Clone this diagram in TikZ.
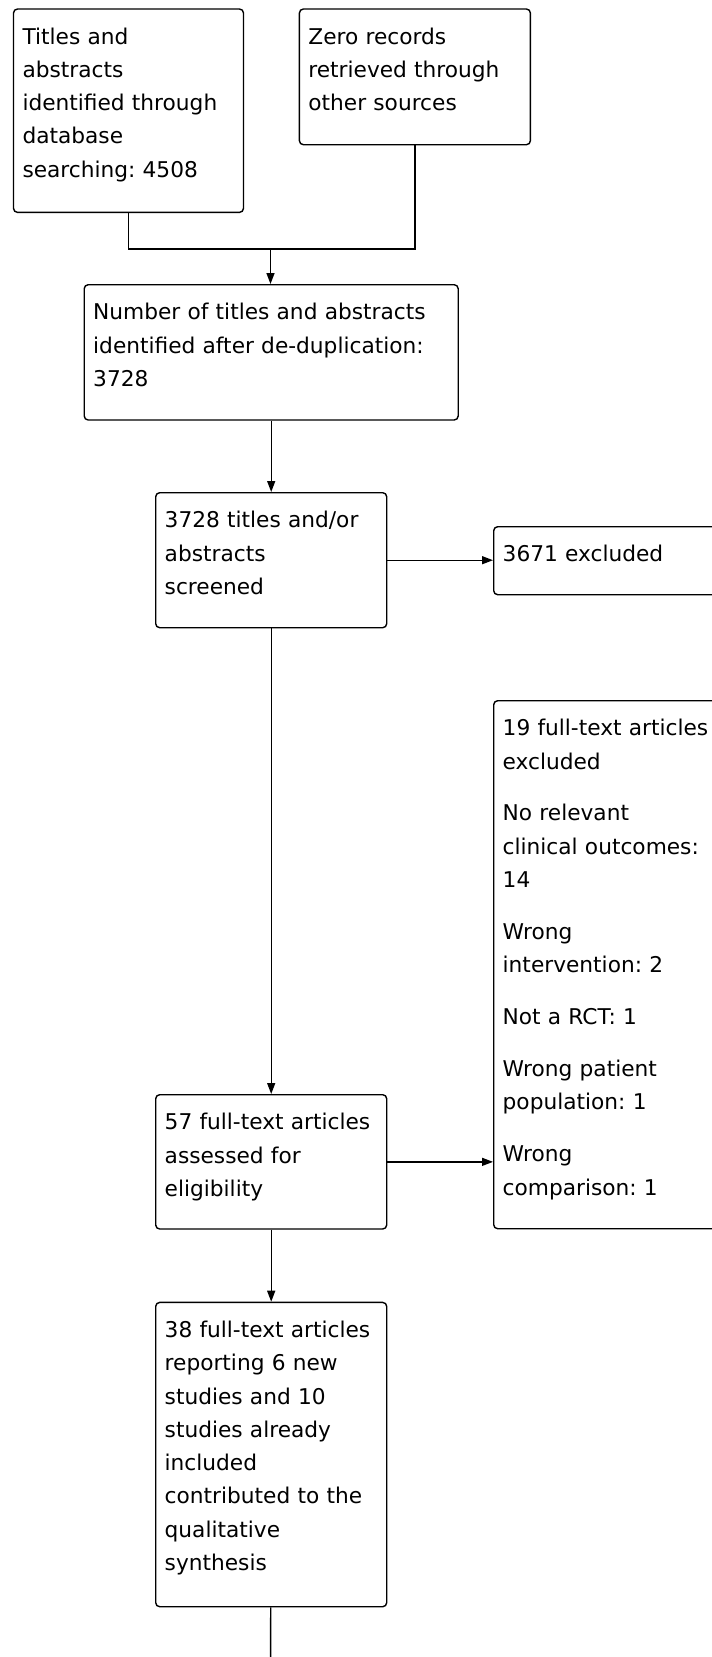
\documentclass[tikz,border=0pt]{standalone}
\usepackage{fontspec}
\setmainfont{DejaVu Sans}
\usetikzlibrary{arrows.meta}
\newcommand{\flowfont}{\fontsize{21.7}{33.3}\selectfont\frenchspacing}

\begin{document}
\begin{tikzpicture}[x=1pt,y=-1pt,>={Triangle[length=11pt,width=8pt]},
  line width=1.4pt,
  stage/.style={draw,rounded corners=4pt,anchor=north west,align=left,
    inner xsep=9pt,inner ysep=0pt,text width=213pt,text height=35pt,
    text depth=#1,font=\flowfont}]
  \path[use as bounding box,fill=white] (0,0) rectangle (712,1657);
  \clip (0,0) rectangle (712,1657);

  \node[stage=168.4pt,text width=212pt] (titles) at (12.8,8.3)
    {Titles and\\abstracts\\identified through\\database\\searching: 4508};
  \node[stage=100.7pt] (zero) at (298.7,8.3)
    {Zero records\\retrieved through\\other sources};
  \node[stage=100.3pt,text width=356pt] (dedup) at (83.5,284)
    {Number of titles and abstracts\\identified after de-duplication:\\3728};
  \node[stage=100pt] (screened) at (155,492)
    {3728 titles and/or\\abstracts\\screened};
  \node[stage=33pt] (screenexcl) at (493,526) {3671 excluded};
  \node[stage=99.3pt] (fulltext) at (155,1094)
    {57 full-text articles\\assessed for\\eligibility};
  \node[stage=493pt] (textexcl) at (493,700)
    {19 full-text articles\\excluded\\[18.6pt]
     No relevant\\clinical outcomes:\\14\\[18.6pt]
     Wrong\\intervention: 2\\[18.6pt]
     Not a RCT: 1\\[18.6pt]
     Wrong patient\\population: 1\\[18.6pt]
     Wrong\\comparison: 1};
  \node[stage=269.3pt] (included) at (155,1301.7)
    {38 full-text articles\\reporting 6 new\\studies and 10\\studies already\\included\\contributed to the\\qualitative\\synthesis};

  \coordinate (join) at (270.5,249);
  \coordinate (out) at (270.5,1680);

  \draw (titles.south) |- (join) -| (zero.south);
  \draw[->] (join) -- (join |- dedup.north);
  \draw[->] (dedup) -- (screened);
  \draw[->] (screened) -- (screened -| screenexcl.west);
  \draw[->] (screened) -- (fulltext);
  \draw[->] (fulltext) -- (fulltext -| textexcl.west);
  \draw[->] (fulltext) -- (included);
  \draw (included) -- (out);
\end{tikzpicture}
\end{document}
